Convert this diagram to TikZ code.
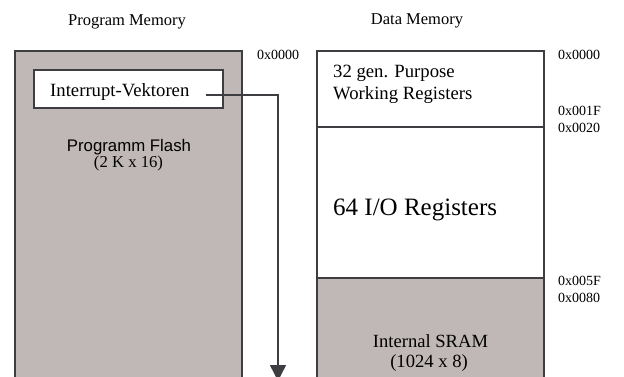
\documentclass[tikz,border=0pt]{standalone}
\usepackage{fontspec}
\setmainfont{Liberation Serif}
\newfontfamily\arialfont{Liberation Sans}
\usetikzlibrary{arrows.meta}
\definecolor{memfill}{RGB}{192,184,182}
\definecolor{memline}{RGB}{62,62,66}
\tikzset{
  membox/.style={draw=memline, line width=1.4pt},
  title/.style={font=\fontsize{16.5}{18}\selectfont, anchor=base, inner sep=0pt},
  addr/.style={font=\fontsize{14}{16}\selectfont, anchor=base west, inner sep=0pt},
  boxtext/.style={font=\fontsize{18.7}{21}\selectfont, anchor=base west, inner sep=0pt},
  centertext/.style={font=\fontsize{16.7}{19}\selectfont, anchor=base, inner sep=0pt},
  flow/.style={draw=memline, line width=1.4pt, -{Triangle[width=16pt,length=16pt]}},
}
\begin{document}
\begin{tikzpicture}[x=1pt, y=-1pt]
\useasboundingbox (0,0) rectangle (624,376);
\clip (0,0) rectangle (624,376);

% column headings
\node[title] (pmtitle) at (127,25) {Program Memory};
\node[title] (dmtitle) at (417,24) {Data Memory};

% program memory: flash block with the interrupt vector table
\fill[memfill] (15,51) rectangle (242,390);
\draw[membox] (15,390) -- (15,51) -- (242,51) -- (242,390);
\draw[membox, fill=white] (34,70) rectangle (223,108);
\node[boxtext] (iv) at (50,96) {Interrupt-Vektoren};
\node[font=\arialfont\fontsize{16.8}{19}\selectfont, anchor=base, inner sep=0pt] (flash) at (129,151) {Programm Flash};
\node[centertext] (flashsize) at (128.5,167) {(2 K x 16)};
\node[addr] (pa0) at (257,59) {0x0000};

% program counter runs from the vectors down through the flash
\coordinate (ivout) at (206,95);
\coordinate (pcend) at (278,381);
\draw[flow] (ivout) -| (pcend);

% data memory: registers, I/O space, internal SRAM
\fill[memfill] (317,278) rectangle (544,390);
\draw[membox] (317,390) -- (317,51) -- (544,51) -- (544,390);
\draw[membox] (317,127) -- (544,127);
\draw[membox] (317,278) -- (544,278);

\node[boxtext] (reg1) at (333,77) {32 gen. Purpose};
\node[boxtext] (reg2) at (333,99) {Working Registers};
\node[font=\fontsize{25}{28}\selectfont, anchor=base west, inner sep=0pt] (io) at (333,215) {64 I/O Registers};
\node[font=\fontsize{18.6}{21}\selectfont, anchor=base, inner sep=0pt] (sram) at (430.5,347) {Internal SRAM};
\node[font=\fontsize{18.6}{21}\selectfont, anchor=base, inner sep=0pt] (sramsize) at (429,367) {(1024 x 8)};

% data memory addresses
\node[addr] (da0) at (558,59) {0x0000};
\node[addr] (da1) at (558,115) {0x001F};
\node[addr] (da2) at (558,132) {0x0020};
\node[addr] (da3) at (558,285) {0x005F};
\node[addr] (da4) at (558,302) {0x0080};
\end{tikzpicture}
\end{document}
